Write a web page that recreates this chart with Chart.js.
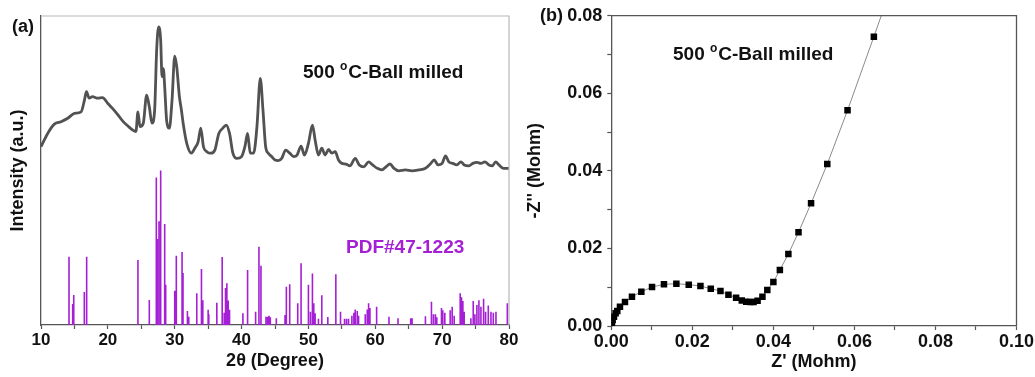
<!DOCTYPE html>
<html><head><meta charset="utf-8">
<script src="https://cdn.jsdelivr.net/npm/chart.js@4.4.1/dist/chart.umd.min.js"></script>
<style>
html,body{margin:0;padding:0;background:#fff;}
#wrap{position:relative;width:1035px;height:377px;overflow:hidden;background:#fff;}
#c1{position:absolute;left:0;top:0;}
#c2{position:absolute;left:520px;top:0;}
</style></head>
<body><div id="wrap"><canvas id="c1" width="520" height="377"></canvas><canvas id="c2" width="515" height="377"></canvas></div>
<script>
// ---------- Panel (a): XRD ----------
const xrdAngle = [10,11,12,13,14,15,16,16.5,16.8,17.2,17.7,18.5,19.2,20,20.7,21.5,22.3,23,23.7,24.2,24.5,24.8,25.3,25.8,26.2,26.6,27.0,27.3,27.6,27.9,28.1,28.3,28.5,28.8,29.2,29.6,30.0,30.3,30.7,31.0,31.3,31.8,32.5,33.0,33.5,33.9,34.3,34.8,35.4,36.0,36.6,37.2,37.7,38.2,38.7,39.3,40.0,40.5,40.9,41.3,41.8,42.3,42.8,43.2,43.6,44.0,44.5,45.0,45.5,46.0,46.6,47.2,47.8,48.3,48.9,49.4,50.0,50.6,51.0,51.5,52.0,52.5,53.0,53.5,54.0,54.5,55.0,55.6,56.2,57.0,57.6,58.3,59.0,59.6,60.3,61.0,61.6,62.2,62.8,63.5,64.5,65.5,66.5,67.5,68.3,68.8,69.4,70.0,70.5,71.0,71.6,72.2,72.8,73.3,74.0,74.6,75.2,75.8,76.4,77.0,77.5,78.0,78.5,79.2,80.0];
const xrdIntensity = [57.7,62,65,65.8,66.9,68.5,69,72.8,75.5,73.4,73.9,73.4,73.6,71.7,70.1,68,65.8,64.4,63.1,62.6,69,64.2,65.3,74.4,70.6,65.3,69.6,89,96.5,92.2,80.4,83,77.1,66,63.7,72.8,87,83.6,73.9,69.6,64.7,58.8,55.6,57.2,59.3,63.7,57.7,56.1,55.6,56.6,62,63.7,64.7,62,55.6,53.9,54.5,57.7,62,55.6,55.6,64.2,79.8,69.6,57.7,55.6,54.5,53.4,53.2,53.9,56.6,55.6,54.5,55,57.9,55,58.8,64.7,59.9,55,57.2,55,56.8,55.6,56.1,53.4,52.3,52.1,51.5,53.9,51.8,51.2,52.8,51.8,50.7,50.2,51.2,52.1,50.7,49.9,50.2,49.9,50.2,50.7,52.3,53.4,51.8,52.3,54.7,52.8,52.3,51.8,52.8,51.8,51.5,52.3,52.6,52.3,52.8,51.8,51.5,52.8,51.8,50.7,50.7];
const pdfAngle = [14.19,14.74,14.9,16.48,16.83,24.5,26.2,27.25,27.4,27.65,27.9,28.5,28.65,30.0,30.24,31.1,31.24,31.9,32.1,33.3,34.0,34.2,35.0,35.1,36.3,37.1,37.4,37.6,37.8,38.0,38.2,40.2,40.9,42.1,42.6,42.9,43.65,43.9,44.1,44.3,45.2,46.5,46.7,47.2,48.4,48.9,50.0,50.3,50.6,50.8,51.0,51.5,52.0,52.9,54.1,54.8,55.4,55.7,56.0,56.5,56.8,57.0,57.3,57.5,58.5,58.8,59.0,59.2,60.2,62.05,63.4,65.3,65.5,67.5,68.4,68.7,69.0,69.2,69.9,70.1,70.4,71.2,71.5,71.8,72.7,72.9,73.1,73.3,74.3,74.65,74.9,75.2,75.5,75.8,76.2,76.5,76.9,77.3,77.65,78.05,79.75];
const pdfIntensity = [22.1,6.8,9.7,10.7,22.1,21,8.1,47.7,27.8,33.6,50,32.7,13,11.1,22.4,23.6,16.8,4.5,2.7,10.3,18.1,8,4.9,3.5,7.2,22,4,12,13.5,7.9,4.9,3.8,17.8,4.3,25.3,19.2,2.7,2.7,3,2.5,2.2,3.2,12.4,13.2,7,20,13,4.3,16.7,7,3.8,2,9.6,2.6,16.4,4.3,2,2,2,3,4,5,4.5,3,3.5,5,7,5.5,5.9,2.7,2.2,2.2,2.2,2.8,7.5,3.5,3.5,2.5,5.5,4.8,4,4.8,5.9,3,10.3,9,7.8,4.3,2.2,7.8,3.5,6.5,8,5.9,8.5,4.3,6.3,4.3,4,4.3,7];
const xrdTicksMajor = [10,20,30,40,50,60,70,80];

// ---------- Panel (b): Nyquist ----------
const eisZre = [0.00016,0.00033,0.00066,0.00107,0.00148,0.00214,0.00338,0.0051,0.00741,0.01005,0.0130,0.01606,0.01911,0.0220,0.02455,0.02694,0.02891,0.0308,0.0322,0.0333,0.0343,0.0351,0.0361,0.0373,0.0385,0.0400,0.0416,0.0437,0.0462,0.0493,0.0533,0.0583,0.0648];
const eisZim = [0.00026,0.00155,0.0024,0.00327,0.00387,0.00498,0.00619,0.00756,0.00885,0.01005,0.01074,0.01091,0.01066,0.01031,0.00962,0.00902,0.00808,0.0073,0.0066,0.00627,0.00619,0.00619,0.00653,0.00756,0.00928,0.01134,0.01444,0.01856,0.02415,0.03162,0.04176,0.0556,0.0746];
const fitTailZre = [0.0668];
const fitTailZim = [0.0805];

const FONT = "'Liberation Sans', Arial, Helvetica, sans-serif";
const PURPLE = '#a51fd4';

function fixBox(w, h) {
  return function(s) {
    if (w !== null) s.width = w;
    if (h !== null) s.height = h;
    s.paddingLeft = 0; s.paddingRight = 0; s.paddingTop = 0; s.paddingBottom = 0;
  };
}

function drawLabel(ctx, x, y, size, color) {
  ctx.save();
  ctx.fillStyle = color;
  ctx.textBaseline = 'alphabetic';
  ctx.textAlign = 'left';
  ctx.font = 'bold ' + size + 'px ' + FONT;
  const a = '500 ';
  ctx.fillText(a, x, y);
  let cx = x + ctx.measureText(a).width;
  ctx.font = 'bold ' + Math.round(size * 0.62) + 'px ' + FONT;
  ctx.fillText('o', cx, y - size * 0.42);
  cx += ctx.measureText('o').width + 1;
  ctx.font = 'bold ' + size + 'px ' + FONT;
  ctx.fillText('C-Ball milled', cx, y);
  ctx.restore();
}

const xrdPoints = xrdAngle.map((a, i) => ({x: a, y: xrdIntensity[i]}));
const stickPoints = [];
pdfAngle.forEach((a, i) => {
  stickPoints.push({x: a, y: 0}, {x: a, y: pdfIntensity[i]}, {x: a, y: null});
});

const framePluginA = {
  id: 'frameA',
  afterDraw(chart) {
    const {ctx, chartArea: ca} = chart;
    ctx.save();
    ctx.strokeStyle = '#b8b8b8';
    ctx.lineWidth = 1.2;
    ctx.beginPath();
    ctx.moveTo(ca.left, ca.top); ctx.lineTo(ca.right, ca.top); ctx.lineTo(ca.right, ca.bottom);
    ctx.stroke();
    ctx.fillStyle = '#111';
    ctx.font = 'bold 18px ' + FONT;
    ctx.textBaseline = 'middle';
    ctx.fillText('(a)', 12, 27);
    drawLabel(ctx, 303, 78, 19, '#111');
    ctx.fillStyle = PURPLE;
    ctx.font = 'bold 19px ' + FONT;
    ctx.textBaseline = 'middle';
    ctx.fillText('PDF#47-1223', 346, 248);
    ctx.restore();
  }
};

new Chart(document.getElementById('c1'), {
  type: 'line',
  data: {
    datasets: [
      {label: 'XRD', data: xrdPoints, borderColor: '#525252', borderWidth: 2.8, pointRadius: 0, cubicInterpolationMode: 'monotone'},
      {label: 'PDF', data: stickPoints, borderColor: PURPLE, borderWidth: 1.6, pointRadius: 0, spanGaps: false, tension: 0}
    ]
  },
  options: {
    responsive: false, animation: false,
    layout: {padding: {left: 0, right: 11, top: 16, bottom: 0}},
    plugins: {legend: {display: false}, tooltip: {enabled: false}},
    scales: {
      x: {
        type: 'linear', min: 10, max: 80,
        afterFit: fixBox(null, 52),
        grid: {drawOnChartArea: false, tickLength: 4, tickColor: '#555', tickWidth: 1.2},
        border: {color: '#555', width: 1.3},
        ticks: {stepSize: 5, padding: 1, color: '#111', font: {family: FONT, size: 17, weight: 'bold'},
          autoSkip: false, maxRotation: 0,
          callback: v => xrdTicksMajor.includes(v) ? String(v) : ''},
        title: {display: true, text: '2θ (Degree)', color: '#111', padding: {top: 0, bottom: 5}, font: {family: FONT, size: 18, weight: 'bold', lineHeight: 1.2}}
      },
      y: {
        type: 'linear', min: 0, max: 100,
        afterFit: fixBox(41, null),
        grid: {drawOnChartArea: false, drawTicks: false},
        border: {color: '#555', width: 1.3},
        ticks: {display: false},
        title: {display: true, text: 'Intensity (a.u.)', color: '#111', padding: {top: 7, bottom: 0}, font: {family: FONT, size: 18, weight: 'bold', lineHeight: 1.2}}
      }
    }
  },
  plugins: [framePluginA]
});

const eisPoints = eisZre.map((x, i) => ({x: x, y: eisZim[i]}));
const fitPoints = eisPoints.concat(fitTailZre.map((x, i) => ({x: x, y: fitTailZim[i]})));

const framePluginB = {
  id: 'frameB',
  afterDraw(chart) {
    const {ctx, chartArea: ca} = chart;
    ctx.save();
    ctx.strokeStyle = '#555';
    ctx.lineWidth = 1.3;
    ctx.beginPath();
    ctx.moveTo(ca.left, ca.top); ctx.lineTo(ca.right, ca.top); ctx.lineTo(ca.right, ca.bottom);
    ctx.stroke();
    ctx.fillStyle = '#111';
    ctx.font = 'bold 18px ' + FONT;
    ctx.textBaseline = 'middle';
    ctx.fillText('(b)', 20, 16);
    drawLabel(ctx, 153, 60, 19, '#111');
    ctx.restore();
  }
};

new Chart(document.getElementById('c2'), {
  type: 'line',
  data: {
    datasets: [
      {label: 'fit', data: fitPoints, order: 2, borderColor: '#8a8a8a', borderWidth: 1, pointRadius: 0, tension: 0},
      {label: 'data', data: eisPoints, order: 1, showLine: false, pointStyle: 'rect', pointRadius: 4.6, pointBorderWidth: 0,
        pointBackgroundColor: '#000', pointBorderColor: '#000'}
    ]
  },
  options: {
    responsive: false, animation: false,
    layout: {padding: {left: 0, right: 18.5, top: 15.7, bottom: 0}},
    plugins: {legend: {display: false}, tooltip: {enabled: false}},
    scales: {
      x: {
        type: 'linear', min: 0, max: 0.1,
        afterFit: fixBox(null, 51),
        grid: {drawOnChartArea: false, tickLength: 4, tickColor: '#555', tickWidth: 1.2},
        border: {color: '#555', width: 1.3},
        ticks: {stepSize: 0.01, padding: 1, color: '#111', font: {family: FONT, size: 18, weight: 'bold'},
          autoSkip: false, maxRotation: 0,
          callback: v => (Math.round(v * 100) % 2 === 0) ? v.toFixed(2) : ''},
        title: {display: true, text: "Z' (Mohm)", color: '#111', padding: {top: 0, bottom: 4}, font: {family: FONT, size: 18, weight: 'bold', lineHeight: 1.2}}
      },
      y: {
        type: 'linear', min: 0, max: 0.08,
        afterFit: fixBox(91.3, null),
        grid: {drawOnChartArea: false, tickLength: 4, tickColor: '#555', tickWidth: 1.2},
        border: {color: '#555', width: 1.3},
        ticks: {stepSize: 0.01, padding: 5, color: '#111', font: {family: FONT, size: 18, weight: 'bold'},
          autoSkip: false,
          callback: v => (Math.round(v * 100) % 2 === 0) ? v.toFixed(2) : ''},
        title: {display: true, text: "-Z'' (Mohm)", color: '#111', padding: {top: 4, bottom: 0}, font: {family: FONT, size: 18, weight: 'bold', lineHeight: 1.2}}
      }
    }
  },
  plugins: [framePluginB]
});
</script>
</body></html>
